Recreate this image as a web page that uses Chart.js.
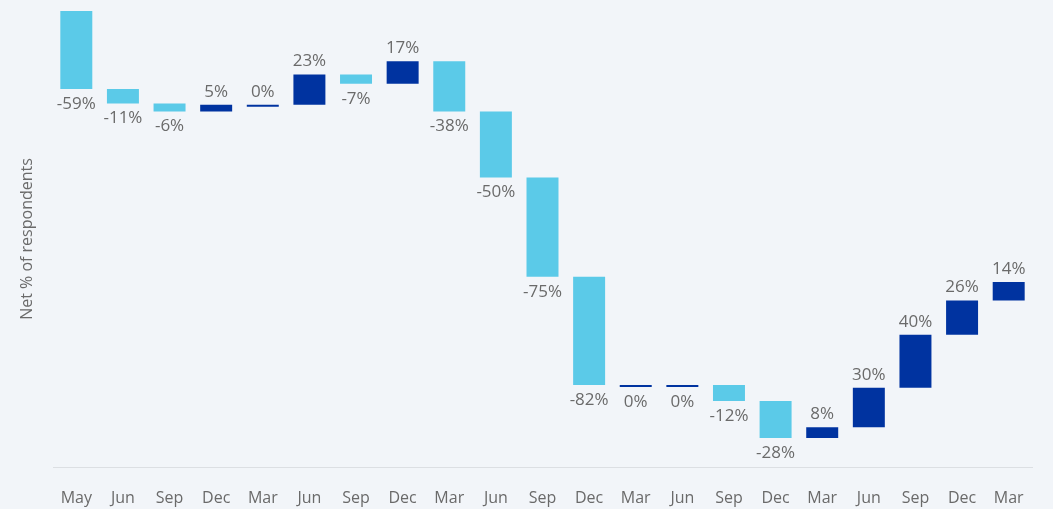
<!DOCTYPE html>
<html>
<head>
<meta charset="utf-8">
<script src="https://cdn.jsdelivr.net/npm/chart.js@4"></script>
<style>
  html, body { margin: 0; padding: 0; background: #f2f5f9; }
  #wrap { width: 1053px; height: 509px; }
</style>
</head>
<body>
<div id="wrap"><canvas id="waterfallChart"></canvas></div>
<script>
// quarterly survey, net % change per period
const labels = ['May', 'Jun', 'Sep', 'Dec', 'Mar', 'Jun', 'Sep', 'Dec', 'Mar', 'Jun', 'Sep',
                'Dec', 'Mar', 'Jun', 'Sep', 'Dec', 'Mar', 'Jun', 'Sep', 'Dec', 'Mar'];
const changes = [-59, -11, -6, 5, 0, 23, -7, 17, -38, -50, -75,
                 -82, 0, 0, -12, -28, 8, 30, 40, 26, 14];

const yMin = -345;
const yMax = 0;

const upColor = '#0033a0';
const downColor = '#5bcae8';
const textColor = '#6a6a6a';

// running total -> floating bars
const ranges = [];
let total = 0;
changes.forEach(v => {
    ranges.push([total, total + v]);
    total += v;
});

// zero steps keep the direction of the last non-zero step
const directions = [];
let lastDir = 1;
changes.forEach(v => {
    if (v !== 0) lastDir = Math.sign(v);
    directions.push(lastDir);
});

const barLabels = {
    id: 'barLabels',
    afterDatasetsDraw(chart) {
        const ctx = chart.ctx;
        const meta = chart.getDatasetMeta(0);
        ctx.save();
        ctx.font = '17px "Open Sans", sans-serif';
        ctx.fillStyle = textColor;
        ctx.textAlign = 'center';
        ctx.textBaseline = 'middle';
        meta.data.forEach((bar, i) => {
            const p = bar.getProps(['x', 'y', 'base'], true);
            const top = Math.min(p.y, p.base);
            const bottom = Math.max(p.y, p.base);
            const y = directions[i] > 0 ? top - 13 : bottom + 15;
            ctx.fillText(changes[i] + '%', p.x, y);
        });
        ctx.restore();
    }
};

new Chart(document.getElementById('waterfallChart'), {
    type: 'bar',
    data: {
        labels,
        datasets: [{
            data: ranges,
            backgroundColor: changes.map(v => v >= 0 ? upColor : downColor),
            borderWidth: 0,
            minBarLength: 2,
            barPercentage: 0.686,
            categoryPercentage: 1
        }]
    },
    options: {
        responsive: true,
        maintainAspectRatio: false,
        animation: false,
        layout: { padding: { top: 11, right: 21, bottom: 0, left: 0 } },
        plugins: {
            legend: { display: false },
            tooltip: { enabled: false }
        },
        scales: {
            x: {
                grid: { display: false, drawTicks: false },
                border: { display: true, color: '#dcdfe3', width: 1 },
                ticks: {
                    color: textColor,
                    font: { family: 'Open Sans', size: 16 },
                    padding: 22,
                    maxRotation: 0,
                    autoSkip: false
                },
                afterFit: scale => { scale.height = 42; }
            },
            y: {
                min: yMin,
                max: yMax,
                grid: { display: false },
                border: { display: false },
                ticks: { display: false },
                title: {
                    display: true,
                    text: 'Net % of respondents',
                    color: textColor,
                    font: { family: 'Open Sans', size: 16 },
                    padding: { top: 18, bottom: 0 }
                },
                afterFit: scale => { scale.width = 53; }
            }
        }
    },
    plugins: [barLabels]
});
</script>
</body>
</html>
